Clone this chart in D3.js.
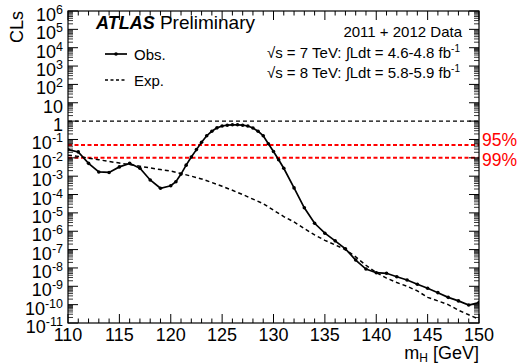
<!doctype html>
<meta charset="utf-8">
<style>
  body { margin: 0; background: #fff; }
  svg { font-family: "Liberation Sans", Arial, Helvetica, sans-serif; }
  .tick-label { font-size: 18px; }
</style>
<svg id="chart" width="525" height="364"></svg>
<script src="https://d3js.org/d3.v7.min.js"></script>
<script>
// observed CLs
const massObs = [110, 111, 112, 113, 114, 115, 116, 117, 118, 119, 120, 120.5, 121, 121.5, 122, 122.5,
  123, 123.5, 124, 124.5, 125, 125.5, 126, 126.5, 127, 127.5, 128, 128.5, 129, 129.5, 130, 130.5,
  131, 132, 133, 134, 135, 136, 137, 138, 139, 140, 141, 142, 143, 144, 145, 146, 147, 148, 149, 150];
const clsObs = [2.8e-2, 2.1e-2, 5.0e-3, 1.7e-3, 1.6e-3, 3.2e-3, 5.0e-3, 2.7e-3, 6.2e-4, 2.2e-4, 3.0e-4, 5.0e-4,
  1.3e-3, 4.0e-3, 1.1e-2, 2.8e-2, 7.1e-2, 0.16, 0.28, 0.43, 0.54, 0.60, 0.63, 0.63, 0.60, 0.54, 0.42, 0.28,
  0.16, 5.9e-2, 2.2e-2, 7.9e-3, 2.7e-3, 2.3e-4, 1.9e-5, 2.7e-6, 7.8e-7, 3.0e-7, 1.1e-7, 2.7e-8, 8.7e-9,
  5.5e-9, 5.1e-9, 3.3e-9, 2.2e-9, 1.3e-9, 7.8e-10, 4.5e-10, 2.5e-10, 1.6e-10, 9.5e-11, 1.3e-10];

// expected CLs
const massExp = [110, 111, 112, 113, 114, 115, 116, 117, 118, 119, 120, 121, 122, 123, 124, 125, 126, 127,
  128, 129, 130, 131, 132, 133, 134, 135, 136, 137, 138, 139, 140, 141, 142, 143, 144, 145, 146, 147, 148, 149, 150];
const clsExp = [1.4e-2, 1.2e-2, 9.5e-3, 7.9e-3, 6.3e-3, 5.2e-3, 4.3e-3, 3.5e-3, 2.8e-3, 2.3e-3, 1.9e-3,
  1.4e-3, 1.0e-3, 7.1e-4, 4.5e-4, 2.8e-4, 1.7e-4, 1.0e-4, 5.6e-5, 3.2e-5, 1.4e-5, 6.3e-6, 3.2e-6, 1.4e-6,
  6.3e-7, 3.2e-7, 1.8e-7, 1.0e-7, 4.0e-8, 1.4e-8, 5.6e-9, 2.8e-9, 1.6e-9, 1.0e-9, 5.6e-10, 2.5e-10,
  1.6e-10, 1.0e-10, 5.0e-11, 2.8e-11, 1.6e-11];

// reference lines
const refLevels = [1, 0.05, 0.01];
const refLabels = ["", "95%", "99%"];

const xTicks = [110, 115, 120, 125, 130, 135, 140, 145, 150];
const yExps = [6, 5, 4, 3, 2, 1, 0, -1, -2, -3, -4, -5, -6, -7, -8, -9, -10, -11];

const svg = d3.select("#chart");
const pLeft = 68, pRight = 479, pTop = 11, pBottom = 323;

const x = d3.scaleLinear().domain([110, 150]).range([pLeft, pRight]);
const y = d3.scaleLog().domain([1e-11, 1e6]).range([pBottom, pTop]);

svg.append("clipPath").attr("id", "clip")
  .append("rect").attr("x", pLeft).attr("y", pTop).attr("width", pRight - pLeft).attr("height", pBottom - pTop);

// reference lines
refLevels.forEach((v, i) => {
  svg.append("line")
    .attr("x1", pLeft).attr("x2", pRight)
    .attr("y1", y(v)).attr("y2", y(v))
    .attr("stroke", i == 0 ? "#000" : "#ff0000")
    .attr("stroke-width", i == 0 ? 1.3 : 2)
    .attr("stroke-dasharray", i == 0 ? "4,3" : "4,2.5");
});
// 95% label sits above its line, 99% below
svg.append("text")
  .attr("x", 482).attr("y", y(refLevels[1]) + 1)
  .attr("fill", "#ff0000").style("font-size", "17.5px")
  .text(refLabels[1]);
svg.append("text")
  .attr("x", 482).attr("y", y(refLevels[2]) + 8)
  .attr("fill", "#ff0000").style("font-size", "17.5px")
  .text(refLabels[2]);

const plot = svg.append("g").attr("clip-path", "url(#clip)");

const expLine = d3.line().x((d, i) => x(massExp[i])).y(d => y(d));
plot.append("path")
  .attr("d", expLine(clsExp))
  .attr("fill", "none").attr("stroke", "#000")
  .attr("stroke-width", 1.5).attr("stroke-dasharray", "4,3");

const obsLine = d3.line().x((d, i) => x(massObs[i])).y(d => y(d));
plot.append("path")
  .attr("d", obsLine(clsObs))
  .attr("fill", "none").attr("stroke", "#000")
  .attr("stroke-width", 1.7);

plot.selectAll("circle.obs")
  .data(clsObs)
  .enter()
  .append("circle")
  .attr("class", "obs")
  .attr("cx", (d, i) => x(massObs[i]))
  .attr("cy", d => y(d))
  .attr("r", 1.8)
  .attr("fill", "#000");

// frame
svg.append("rect")
  .attr("x", pLeft).attr("y", pTop).attr("width", pRight - pLeft).attr("height", pBottom - pTop)
  .attr("fill", "none").attr("stroke", "#000").attr("stroke-width", 1.2);

// x ticks (bottom + top)
const xMinor = d3.range(110, 151, 1);
xMinor.forEach(m => {
  const len = m % 5 == 0 ? 9 : 4.5;
  svg.append("line").attr("x1", x(m)).attr("x2", x(m))
    .attr("y1", pBottom).attr("y2", pBottom - len).attr("stroke", "#000");
  svg.append("line").attr("x1", x(m)).attr("x2", x(m))
    .attr("y1", pTop).attr("y2", pTop + len).attr("stroke", "#000");
});
svg.selectAll("text.xl")
  .data(xTicks)
  .enter()
  .append("text")
  .attr("class", "tick-label xl")
  .attr("x", d => x(d))
  .attr("y", 341)
  .attr("text-anchor", "middle")
  .text(d => d);

// y ticks (left + right)
yExps.forEach(e => {
  const v = Math.pow(10, e);
  svg.append("line").attr("x1", pLeft).attr("x2", pLeft + 10)
    .attr("y1", y(v)).attr("y2", y(v)).attr("stroke", "#000");
  svg.append("line").attr("x1", pRight).attr("x2", pRight - 10)
    .attr("y1", y(v)).attr("y2", y(v)).attr("stroke", "#000");
  if (e > -11) {
    for (let k = 2; k <= 9; k++) {
      const mv = k * Math.pow(10, e - 1);
      svg.append("line").attr("x1", pLeft).attr("x2", pLeft + 5)
        .attr("y1", y(mv)).attr("y2", y(mv)).attr("stroke", "#000").attr("stroke-width", 0.8);
      svg.append("line").attr("x1", pRight).attr("x2", pRight - 5)
        .attr("y1", y(mv)).attr("y2", y(mv)).attr("stroke", "#000").attr("stroke-width", 0.8);
    }
  }
  const t = svg.append("text")
    .attr("class", "tick-label")
    .attr("x", 63).attr("y", y(v) + 10)
    .attr("text-anchor", "end");
  if (e == 0) t.text("1");
  else if (e == 1) t.text("10");
  else {
    t.append("tspan").text("10");
    t.append("tspan").attr("dy", -7).style("font-size", "12.5px").text(e);
  }
});

// axis titles
svg.append("text")
  .attr("transform", "translate(23," + pTop + ") rotate(-90)")
  .attr("text-anchor", "end")
  .style("font-size", "18px")
  .text("CLs");

const xt = svg.append("text")
  .attr("x", pRight).attr("y", 359)
  .attr("text-anchor", "end")
  .style("font-size", "18px");
xt.append("tspan").text("m");
xt.append("tspan").attr("dy", 3).style("font-size", "12px").text("H");
xt.append("tspan").attr("dy", -3).text(" [GeV]");

// ATLAS label
const at = svg.append("text").attr("x", 96).attr("y", 29).style("font-size", "18px");
at.append("tspan").style("font-weight", "bold").style("font-style", "italic").text("ATLAS");
at.append("tspan").style("font-size", "19px").text(" Preliminary");

svg.append("text").attr("x", 462).attr("y", 37)
  .attr("text-anchor", "end").style("font-size", "15px")
  .text("2011 + 2012 Data");

function lumiLine(yy, sqrts, lumi) {
  const t = svg.append("text").attr("x", 460).attr("y", yy)
    .attr("text-anchor", "end").style("font-size", "15px");
  t.append("tspan").text("\u221As = " + sqrts + " TeV:  \u222BLdt = " + lumi + " fb");
  t.append("tspan").attr("dy", -6).style("font-size", "10px").text("-1");
}
lumiLine(58, 7, "4.6-4.8");
lumiLine(78, 8, "5.8-5.9");

// legend
svg.append("line").attr("x1", 105).attr("x2", 127).attr("y1", 54).attr("y2", 54)
  .attr("stroke", "#000").attr("stroke-width", 1.7);
svg.append("circle").attr("cx", 116).attr("cy", 54).attr("r", 1.8).attr("fill", "#000");
svg.append("text").attr("x", 134).attr("y", 60).style("font-size", "15px").text("Obs.");
svg.append("line").attr("x1", 105).attr("x2", 127).attr("y1", 80).attr("y2", 80)
  .attr("stroke", "#000").attr("stroke-width", 1.5).attr("stroke-dasharray", "3,2.5");
svg.append("text").attr("x", 134).attr("y", 86).style("font-size", "15px").text("Exp.");
</script>
